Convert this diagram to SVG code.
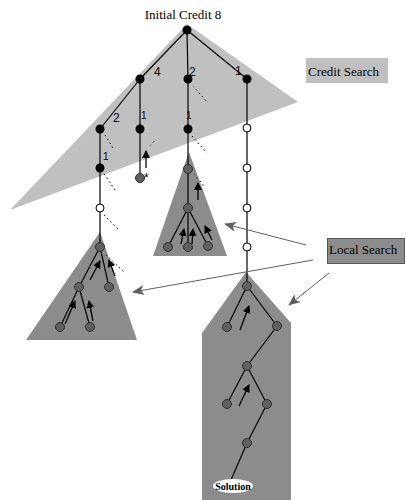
<svg xmlns="http://www.w3.org/2000/svg" width="406" height="500" viewBox="0 0 406 500">
<defs>
<marker id="ah" markerWidth="8" markerHeight="8" refX="7" refY="4" orient="auto" markerUnits="userSpaceOnUse">
<path d="M0,0 L8,4 L0,8 Z" fill="#000"/>
</marker>
<marker id="gh" markerWidth="12" markerHeight="10" refX="11" refY="5" orient="auto" markerUnits="userSpaceOnUse">
<path d="M0,0 L12,5 L0,10 L3,5 Z" fill="#606060"/>
</marker>
<style>
.t{font-family:"Liberation Serif","Times New Roman",serif;font-size:13px;fill:#000}
.n{font-family:"Liberation Sans",Arial,sans-serif;font-size:12px;fill:#000}
.s{font-family:"Liberation Sans",Arial,sans-serif;font-size:10px;fill:#000}
.e{stroke:#000;stroke-width:1.2;fill:none}
.d{stroke:#000;stroke-width:1;stroke-dasharray:1.5 3;fill:none}
.a{stroke:#000;stroke-width:1.3;fill:none;marker-end:url(#ah)}
.g{stroke:#606060;stroke-width:1;fill:none;marker-end:url(#gh)}
.b{fill:#000}
.w{fill:#fff;stroke:#000;stroke-width:1}
.y{fill:#606060;stroke:#303030;stroke-width:1}
</style>
</defs>
<rect width="406" height="500" fill="#fff"/>
<g id="regions">
<polygon id="credit-area" points="187,24 298,102 10,210" fill="#c0c0c0"/>
<polygon id="local-mid" points="189,152 227,256 153,256" fill="#8c8c8c"/>
<polygon id="local-left" points="100,232 137,340 26,340" fill="#8c8c8c"/>
<polygon id="local-right" points="246,272 291,323 291,500 202,500 202,333" fill="#8c8c8c"/>
</g>
<g id="connectors">
<line class="e" x1="187" y1="30" x2="140" y2="79"/>
<line class="e" x1="187" y1="30" x2="188" y2="79"/>
<line class="e" x1="187" y1="30" x2="247" y2="79"/>
<line class="e" x1="140" y1="79" x2="100" y2="129"/>
<line class="e" x1="140" y1="79" x2="140" y2="178"/>
<line class="e" x1="188" y1="79" x2="188" y2="208"/>
<line class="e" x1="247" y1="79" x2="247" y2="286"/>
<line class="e" x1="100" y1="129" x2="100" y2="247"/>
<line class="e" x1="188" y1="208" x2="168" y2="247"/>
<line class="e" x1="188" y1="208" x2="188" y2="247"/>
<line class="e" x1="188" y1="208" x2="208" y2="246"/>
<line class="e" x1="100" y1="247" x2="79" y2="287"/>
<line class="e" x1="100" y1="247" x2="109" y2="287"/>
<line class="e" x1="79" y1="287" x2="60" y2="327"/>
<line class="e" x1="79" y1="287" x2="90" y2="327"/>
<line class="e" x1="247" y1="286" x2="227" y2="327"/>
<line class="e" x1="247" y1="286" x2="277" y2="326"/>
<line class="e" x1="277" y1="326" x2="247" y2="366"/>
<line class="e" x1="247" y1="366" x2="227" y2="404"/>
<line class="e" x1="247" y1="366" x2="267" y2="404"/>
<line class="e" x1="267" y1="404" x2="247" y2="443"/>
<line class="e" x1="247" y1="443" x2="231" y2="480"/>
<line class="d" x1="193" y1="86" x2="208" y2="103"/>
<line class="d" x1="105" y1="135" x2="113" y2="148"/>
<line class="d" x1="150" y1="146" x2="156" y2="139"/>
<line class="d" x1="104" y1="174" x2="115" y2="190"/>
<line class="d" x1="104" y1="215" x2="120" y2="231"/>
<line class="d" x1="106" y1="255" x2="125" y2="273"/>
<line class="d" x1="192" y1="136" x2="207" y2="153"/>
<line class="d" x1="194" y1="174" x2="205" y2="187"/>
<line class="a" x1="146" y1="168" x2="146" y2="151"/>
<line class="a" x1="198" y1="200" x2="198" y2="183"/>
<line class="a" x1="181" y1="244" x2="184" y2="229"/>
<line class="a" x1="192" y1="244" x2="193" y2="229"/>
<line class="a" x1="212" y1="240" x2="205" y2="226"/>
<line class="a" x1="90" y1="280" x2="100" y2="261"/>
<line class="a" x1="115" y1="276" x2="109" y2="260"/>
<line class="a" x1="65" y1="324" x2="75" y2="301"/>
<line class="a" x1="93" y1="321" x2="89" y2="301"/>
<line class="a" x1="240" y1="330" x2="249" y2="306"/>
<line class="a" x1="239" y1="406" x2="249" y2="385"/>
<line class="g" x1="306" y1="245" x2="225" y2="224"/>
<line class="g" x1="313" y1="260" x2="133" y2="292"/>
<line class="g" x1="329" y1="273" x2="289" y2="305"/>
</g>
<g id="nodes">
<circle class="b" cx="187" cy="30" r="4.5"/>
<circle class="b" cx="140" cy="79" r="4.5"/>
<circle class="b" cx="188" cy="79" r="4.5"/>
<circle class="b" cx="247" cy="79" r="4.5"/>
<circle class="b" cx="100" cy="129" r="4.5"/>
<circle class="b" cx="140" cy="129" r="4.5"/>
<circle class="b" cx="188" cy="129" r="4.5"/>
<circle class="w" cx="247" cy="128" r="4"/>
<circle class="b" cx="100" cy="168" r="4.5"/>
<circle class="y" cx="140" cy="178" r="4.5"/>
<circle class="w" cx="247" cy="168" r="4"/>
<circle class="w" cx="100" cy="208" r="4"/>
<circle class="w" cx="247" cy="208" r="4"/>
<circle class="w" cx="247" cy="247" r="4"/>
<circle class="y" cx="188" cy="169" r="4.5"/>
<circle class="y" cx="188" cy="208" r="4.5"/>
<circle class="y" cx="168" cy="247" r="4.5"/>
<circle class="y" cx="188" cy="247" r="4.5"/>
<circle class="y" cx="208" cy="246" r="4.5"/>
<circle class="y" cx="100" cy="247" r="4.5"/>
<circle class="y" cx="79" cy="287" r="4.5"/>
<circle class="y" cx="109" cy="287" r="4.5"/>
<circle class="y" cx="60" cy="327" r="4.5"/>
<circle class="y" cx="90" cy="327" r="4.5"/>
<circle class="y" cx="247" cy="286" r="4.5"/>
<circle class="y" cx="227" cy="327" r="4.5"/>
<circle class="y" cx="277" cy="326" r="4.5"/>
<circle class="y" cx="247" cy="366" r="4.5"/>
<circle class="y" cx="227" cy="404" r="4.5"/>
<circle class="y" cx="267" cy="404" r="4.5"/>
<circle class="y" cx="247" cy="443" r="4.5"/>
<g id="solution">
<ellipse cx="233" cy="486" rx="20" ry="7" fill="#fff"/>
<text x="233" y="490" text-anchor="middle" font-family="Liberation Serif, serif" font-size="10" font-weight="bold">Solution</text>
</g>
</g>
<g id="labels">
<text class="t" x="183" y="19" text-anchor="middle">Initial Credit 8</text>
<text class="n" x="154" y="76">4</text>
<text class="n" x="189" y="76">2</text>
<text class="n" x="235" y="75">1</text>
<text class="n" x="113" y="122">2</text>
<text class="s" x="141" y="119">1</text>
<text class="s" x="186" y="119">1</text>
<text class="s" x="103" y="160">1</text>
<text class="n" x="144" y="182">*</text>
<g id="credit-search-label">
<rect x="306" y="58" width="82" height="25" fill="#c0c0c0"/>
<text class="t" x="308" y="76">Credit Search</text>
</g>
<g id="local-search-label">
<rect x="327.5" y="238.5" width="77" height="25" fill="#8c8c8c" stroke="#555" stroke-width="1"/>
<text class="t" x="329" y="254">Local Search</text>
</g>
</g>
</svg>
